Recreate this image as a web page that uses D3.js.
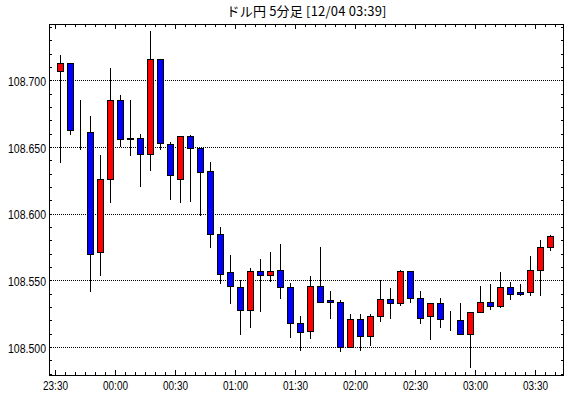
<!DOCTYPE html>
<html><head><meta charset="utf-8">
<script src="https://cdn.jsdelivr.net/npm/d3@7"></script>
<style>
html,body{margin:0;padding:0;background:#fff;}
svg{display:block;}
text{font-family:"Liberation Sans",Arial,sans-serif;fill:#000;}
</style></head>
<body>
<svg id="chart" width="570" height="398"></svg>
<script>
const title = "ドル円 5分足 [12/04 03:39]";
// minutes since 23:30 for each 5-minute candle
const minutes = d3.range(0, 250, 5);
const open  = [108.707,108.713,108.663,108.661,108.571,108.626,108.685,108.657,108.657,108.645,108.716,108.652,108.626,108.658,108.649,108.632,108.585,108.556,108.545,108.528,108.557,108.554,108.558,108.545,108.518,108.512,108.546,108.535,108.534,108.500,108.521,108.508,108.523,108.536,108.533,108.557,108.537,108.523,108.533,108.521,108.520,108.510,108.526,108.534,108.531,108.545,108.541,108.541,108.558,108.575];
const high  = [108.719,108.713,108.685,108.673,108.644,108.709,108.689,108.685,108.660,108.737,108.716,108.654,108.658,108.659,108.649,108.639,108.590,108.569,108.550,108.559,108.566,108.571,108.577,108.548,108.523,108.553,108.575,108.542,108.535,108.525,108.525,108.525,108.550,108.544,108.558,108.557,108.542,108.533,108.537,108.527,108.533,108.526,108.546,108.547,108.556,108.549,108.547,108.568,108.580,108.584];
const low   = [108.638,108.659,108.648,108.541,108.553,108.608,108.650,108.643,108.620,108.632,108.648,108.610,108.608,108.609,108.598,108.574,108.547,108.532,108.509,108.514,108.526,108.549,108.536,108.507,108.497,108.506,108.535,108.521,108.496,108.499,108.497,108.501,108.519,108.521,108.531,108.533,108.517,108.505,108.514,108.512,108.510,108.484,108.526,108.528,108.529,108.535,108.538,108.538,108.538,108.572];
const close = [108.713,108.663,108.663,108.570,108.626,108.685,108.656,108.656,108.645,108.716,108.653,108.629,108.658,108.649,108.631,108.585,108.555,108.546,108.528,108.557,108.554,108.557,108.545,108.518,108.511,108.546,108.534,108.534,108.500,108.521,108.508,108.523,108.536,108.533,108.557,108.537,108.522,108.533,108.521,108.521,108.510,108.526,108.534,108.531,108.545,108.540,108.540,108.558,108.575,108.583];
const yTickValues = [108.500, 108.550, 108.600, 108.650, 108.700];
const xTickLabels = ["23:30","00:00","00:30","01:00","01:30","02:00","02:30","03:00","03:30"];

const svg = d3.select("#chart");
const L = 49, R = 564, T = 24, B = 375;
const x = d3.scaleLinear().domain([-3, 254.5]).range([L, R]);
const y = d3.scaleLinear().domain([108.479, 108.7422]).range([B, T]);

// dotted grid
const g = svg.append("g").attr("shape-rendering","crispEdges");
g.selectAll("line.grid").data(yTickValues).join("line")
  .attr("x1", L).attr("x2", R)
  .attr("y1", d => Math.round(y(d)) + 0.5).attr("y2", d => Math.round(y(d)) + 0.5)
  .attr("stroke", "#000").attr("stroke-dasharray", "1,1");

// axes ticks
const minorY = d3.range(108.48, 108.745, 0.01);
g.selectAll("line.ly").data(minorY).join("line")
  .attr("x1", L).attr("x2", L + 3)
  .attr("y1", d => Math.round(y(d)) + 0.5).attr("y2", d => Math.round(y(d)) + 0.5)
  .attr("stroke", "#000");
g.selectAll("line.ry").data(minorY).join("line")
  .attr("x1", R - 3).attr("x2", R)
  .attr("y1", d => Math.round(y(d)) + 0.5).attr("y2", d => Math.round(y(d)) + 0.5)
  .attr("stroke", "#000");
const xt = d3.range(0, 255, 5);
g.selectAll("line.tx").data(xt).join("line")
  .attr("x1", d => Math.round(x(d)) + 0.5).attr("x2", d => Math.round(x(d)) + 0.5)
  .attr("y1", T).attr("y2", d => T + (d % 30 === 0 ? 5 : 3))
  .attr("stroke", "#000");
g.selectAll("line.bx").data(xt).join("line")
  .attr("x1", d => Math.round(x(d)) + 0.5).attr("x2", d => Math.round(x(d)) + 0.5)
  .attr("y1", B).attr("y2", d => B - (d % 30 === 0 ? 5 : 3))
  .attr("stroke", "#000");

// frame
g.append("rect").attr("x", L + 0.5).attr("y", T + 0.5)
  .attr("width", R - L - 1).attr("height", B - T)
  .attr("fill", "none").attr("stroke", "#000");

// y labels
svg.selectAll("text.yl").data(yTickValues).join("text")
  .attr("x", 46).attr("y", d => y(d) + 5.7)
  .attr("text-anchor", "end").attr("font-size", "12px")
  .attr("textLength", 38).attr("lengthAdjust", "spacingAndGlyphs")
  .text(d => d.toFixed(3));

// x labels
svg.selectAll("text.xl").data(xTickLabels).join("text")
  .attr("x", (d, i) => x(i * 30) + 0.5).attr("y", 390)
  .attr("text-anchor", "middle").attr("font-size", "12px")
  .attr("textLength", 25).attr("lengthAdjust", "spacingAndGlyphs")
  .text(d => d);

// title
svg.append("text").attr("x", (L + R) / 2).attr("y", 16)
  .attr("text-anchor", "middle").attr("font-size", "13px")
  .attr("textLength", 160).attr("lengthAdjust", "spacing")
  .style("font-family", "'Noto Sans CJK JP', sans-serif")
  .text(title);

// candles
const data = minutes.map((m, i) => ({m, o: open[i], h: high[i], l: low[i], c: close[i]}));
const cg = svg.append("g").attr("shape-rendering", "crispEdges");
const cx = d => Math.round(x(d.m + 2.5));
cg.selectAll("line.wick").data(data).join("line")
  .attr("x1", d => cx(d) + 0.5).attr("x2", d => cx(d) + 0.5)
  .attr("y1", d => Math.round(y(d.h))).attr("y2", d => Math.round(y(d.l)))
  .attr("stroke", "#000");
cg.selectAll("rect.body").data(data).join("rect")
  .attr("x", d => cx(d) - 3 + 0.5)
  .attr("y", d => Math.round(y(Math.max(d.o, d.c))) + 0.5)
  .attr("width", 6)
  .attr("height", d => Math.round(y(Math.min(d.o, d.c))) - Math.round(y(Math.max(d.o, d.c))))
  .attr("fill", d => d.c > d.o ? "#ff0000" : (d.c < d.o ? "#0000ff" : "none"))
  .attr("stroke", "#000");
</script>
</body></html>
